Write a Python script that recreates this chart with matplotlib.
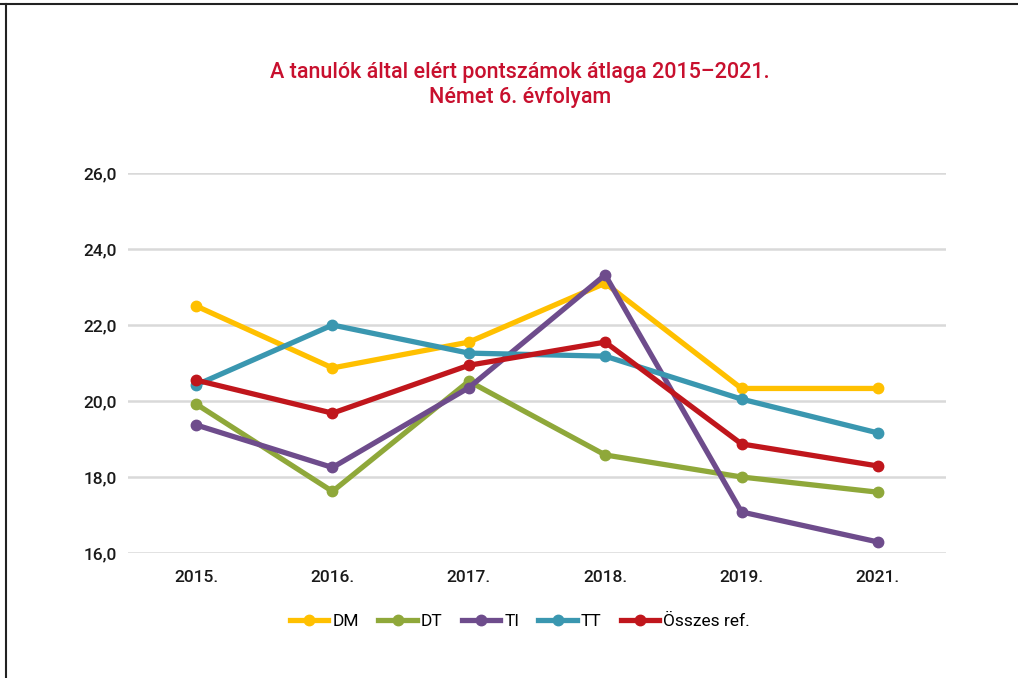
import matplotlib
matplotlib.use("Agg")
import matplotlib.pyplot as plt
from matplotlib.lines import Line2D

years = ["2015.", "2016.", "2017.", "2018.", "2019.", "2021."]
dm = [22.5, 20.87, 21.55, 23.1, 20.33, 20.33]
dt = [19.92, 17.62, 20.52, 18.58, 18.0, 17.6]
ti = [19.37, 18.25, 20.35, 23.32, 17.08, 16.29]
tt = [20.42, 22.0, 21.26, 21.18, 20.05, 19.16]
osszes = [20.55, 19.68, 20.94, 21.55, 18.87, 18.29]
series_names = ["DM", "DT", "TI", "TT", "Összes ref."]
yticks = [16, 18, 20, 22, 24, 26]

colors = ["#FFC000", "#8FA83A", "#6E4C8C", "#3A97B0", "#C0161C"]
title_color = "#C8102E"

plt.rcParams['font.family'] = ['Roboto', 'DejaVu Sans']

fig = plt.figure(figsize=(10.18, 6.78), dpi=100)
ax = fig.add_axes([0.1257, 0.1844, 0.8036, 0.5604])

x = list(range(len(years)))
for vals, name, c in zip([dm, dt, ti, tt, osszes], series_names, colors):
    ax.plot(x, vals, color=c, lw=3.8, marker='o', markersize=7.5, label=name,
            solid_capstyle='round', zorder=3)

ax.set_xlim(-0.5, len(years) - 0.5)
ax.set_ylim(16, 26)
ax.set_yticks(yticks)
ax.set_yticklabels([f"{v:.1f}".replace('.', ',') for v in yticks], fontsize=12.5,
                   color="#1a1a1a", fontweight='medium')
ax.set_xticks(x)
ax.set_xticklabels(years, fontsize=12.5, color="#1a1a1a", fontweight='medium')
ax.tick_params(axis='both', length=0)
ax.tick_params(axis='y', pad=8)
ax.tick_params(axis='x', pad=12)
for sp in ax.spines.values():
    sp.set_visible(False)
ax.grid(axis='y', color='#D9D9D9', lw=1.8, zorder=0)
ax.set_axisbelow(True)

fig.text(0.511, 0.875, "A tanulók által elért pontszámok átlaga 2015–2021.\nNémet 6. évfolyam",
         ha='center', va='center', fontsize=15.5, color=title_color, linespacing=1.25,
         fontweight='medium')

handles = [Line2D([0], [0], color=c, lw=3.8, marker='o', markersize=7.5) for c in colors]
leg = fig.legend(handles, series_names, loc='center', bbox_to_anchor=(0.511, 0.084), ncol=5,
                 frameon=False, fontsize=12.5, handlelength=2.2, columnspacing=1.1,
                 handletextpad=0.25)

# border lines (top and left)
fig.add_artist(Line2D([0, 1], [0.994, 0.994], color='#222222', lw=1.5, transform=fig.transFigure))
fig.add_artist(Line2D([0.006, 0.006], [0, 0.994], color='#222222', lw=1.5, transform=fig.transFigure))

fig.savefig("out.png", dpi=100, facecolor='white')
